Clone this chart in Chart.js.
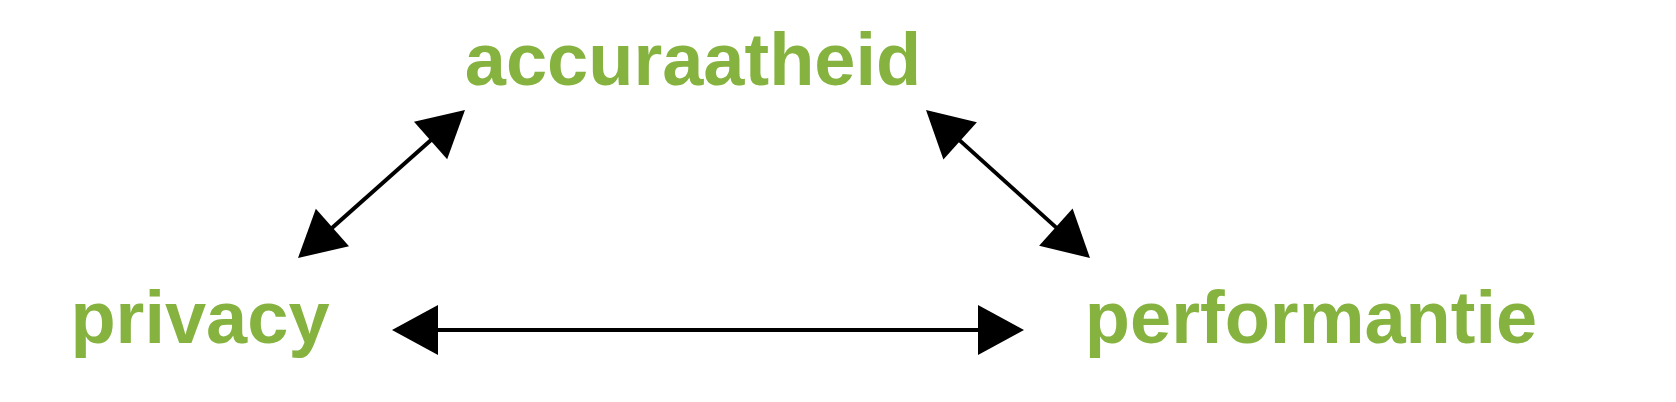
<!DOCTYPE html>
<html>
<head>
<meta charset="utf-8">
<script src="https://cdn.jsdelivr.net/npm/chart.js@4"></script>
<style>
  html, body { margin: 0; padding: 0; background: #fff; }
  #wrap { width: 1676px; height: 402px; }
</style>
</head>
<body>
<div id="wrap"><canvas id="c"></canvas></div>
<script>
// knooppunten (tekst) en verbindingen (pijlen), in beeldcoördinaten
const nodeLabels = ["accuraatheid", "privacy", "performantie"];
const nodeX = [693, 200, 1311];
const nodeY = [85, 343, 343];
// pijlen: punt van elke pijlkop
const arrowFromX = [298, 926, 392];
const arrowFromY = [258, 110, 330];
const arrowToX = [465, 1090, 1024];
const arrowToY = [110, 258, 330];

const HEAD_LEN = 46;
const HEAD_HALF = 25;

function pointBack(x1, y1, x2, y2, d) {
    const len = Math.hypot(x2 - x1, y2 - y1);
    return [x1 + (x2 - x1) * d / len, y1 + (y2 - y1) * d / len];
}

// lijnen tussen de pijlkoppen
const datasets = arrowFromX.map((fx, i) => {
    const a = pointBack(fx, arrowFromY[i], arrowToX[i], arrowToY[i], HEAD_LEN - 4);
    const b = pointBack(arrowToX[i], arrowToY[i], fx, arrowFromY[i], HEAD_LEN - 4);
    return {
        data: [{ x: a[0], y: a[1] }, { x: b[0], y: b[1] }],
        showLine: true,
        borderColor: "#000",
        borderWidth: 4,
        pointRadius: 0
    };
});

const diagramPlugin = {
    id: "diagram",
    afterDatasetsDraw(chart) {
        const ctx = chart.ctx;
        const sx = chart.scales.x, sy = chart.scales.y;
        ctx.save();
        // pijlkoppen
        ctx.fillStyle = "#000";
        const head = (tx, ty, ox, oy) => {
            const px = sx.getPixelForValue(tx), py = sy.getPixelForValue(ty);
            const qx = sx.getPixelForValue(ox), qy = sy.getPixelForValue(oy);
            const ang = Math.atan2(py - qy, px - qx);
            const bx = px - Math.cos(ang) * HEAD_LEN, by = py - Math.sin(ang) * HEAD_LEN;
            const nx = -Math.sin(ang) * HEAD_HALF, ny = Math.cos(ang) * HEAD_HALF;
            ctx.beginPath();
            ctx.moveTo(px, py);
            ctx.lineTo(bx + nx, by + ny);
            ctx.lineTo(bx - nx, by - ny);
            ctx.closePath();
            ctx.fill();
        };
        arrowFromX.forEach((fx, i) => {
            head(fx, arrowFromY[i], arrowToX[i], arrowToY[i]);
            head(arrowToX[i], arrowToY[i], fx, arrowFromY[i]);
        });
        // labels
        ctx.fillStyle = "#86b340";
        ctx.font = "bold 74px 'Liberation Sans', Arial, sans-serif";
        ctx.textAlign = "center";
        ctx.textBaseline = "alphabetic";
        nodeLabels.forEach((t, i) => {
            ctx.fillText(t, sx.getPixelForValue(nodeX[i]), sy.getPixelForValue(nodeY[i]));
        });
        ctx.restore();
    }
};

new Chart(document.getElementById("c"), {
    type: "scatter",
    data: { datasets: datasets },
    options: {
        responsive: true,
        maintainAspectRatio: false,
        animation: false,
        layout: { padding: 0 },
        plugins: { legend: { display: false }, tooltip: { enabled: false } },
        scales: {
            x: { type: "linear", min: 0, max: 1676, display: false },
            y: { type: "linear", min: 0, max: 402, reverse: true, display: false }
        }
    },
    plugins: [diagramPlugin]
});
</script>
</body>
</html>
